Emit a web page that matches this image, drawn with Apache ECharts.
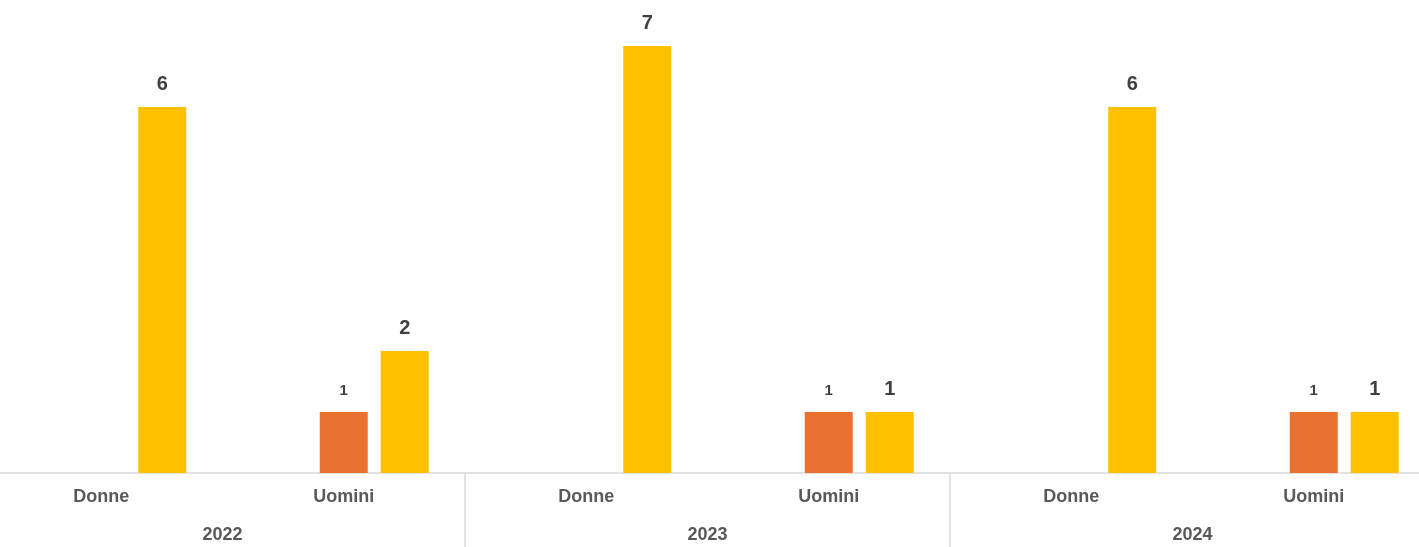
<!DOCTYPE html>
<html>
<head>
<meta charset="utf-8">
<script src="https://cdn.jsdelivr.net/npm/echarts@6/dist/echarts.min.js"></script>
<style>
  html, body { margin: 0; padding: 0; background: #fff; }
  #chart { width: 1419px; height: 547px; }
</style>
</head>
<body>
<div id="chart"></div>
<script>
  const years = ['2022', '2023', '2024']
  const genders = ['Donne', 'Uomini']
  const categories = ['Donne', 'Uomini', 'Donne', 'Uomini', 'Donne', 'Uomini']
  // first series is empty in the original, it only reserves the space on the left
  const emptySeries = [null, null, null, null, null, null]
  const orangeValues = [null, 1, null, 1, null, 1]
  const yellowValues = [6, 2, 7, 1, 6, 1]

  const font = 'Liberation Sans'
  const chart = echarts.init(document.getElementById('chart'))
  chart.setOption({
    animation: false,
    grid: {
      left: -20,
      width: 1455,
      top: 46,
      bottom: 74,
      containLabel: false,
      outerBoundsMode: 'none'
    },
    xAxis: [{
      type: 'category',
      data: categories,
      axisLine: { lineStyle: { color: '#d9d9d9', width: 1.5 } },
      axisTick: { show: false },
      axisLabel: {
        interval: 0,
        margin: 15,
        fontFamily: font,
        fontWeight: 'bold',
        fontSize: 18,
        color: '#595959'
      }
    }, {
      type: 'category',
      data: years,
      position: 'bottom',
      axisLine: { show: false },
      axisTick: { show: true, interval: 0, length: 74, lineStyle: { color: '#d9d9d9', width: 1.5 } },
      axisLabel: {
        interval: 0,
        margin: 53,
        fontFamily: font,
        fontWeight: 'bold',
        fontSize: 18,
        color: '#595959'
      }
    }],
    yAxis: {
      type: 'value',
      min: 0,
      max: 7,
      show: false
    },
    series: [{
      name: 'vuoto',
      type: 'bar',
      barWidth: 48,
      data: emptySeries
    }, {
      name: 'arancio',
      type: 'bar',
      barWidth: 48,
      itemStyle: { color: '#e97132' },
      label: {
        show: true,
        position: 'top',
        distance: 14,
        fontFamily: font,
        fontWeight: 'bold',
        fontSize: 15,
        color: '#404040'
      },
      data: orangeValues
    }, {
      name: 'giallo',
      type: 'bar',
      barWidth: 48,
      barGap: '27%',
      itemStyle: { color: '#ffc000' },
      label: {
        show: true,
        position: 'top',
        distance: 13,
        fontFamily: font,
        fontWeight: 'bold',
        fontSize: 20,
        color: '#404040'
      },
      data: yellowValues
    }]
  })
</script>
</body>
</html>
